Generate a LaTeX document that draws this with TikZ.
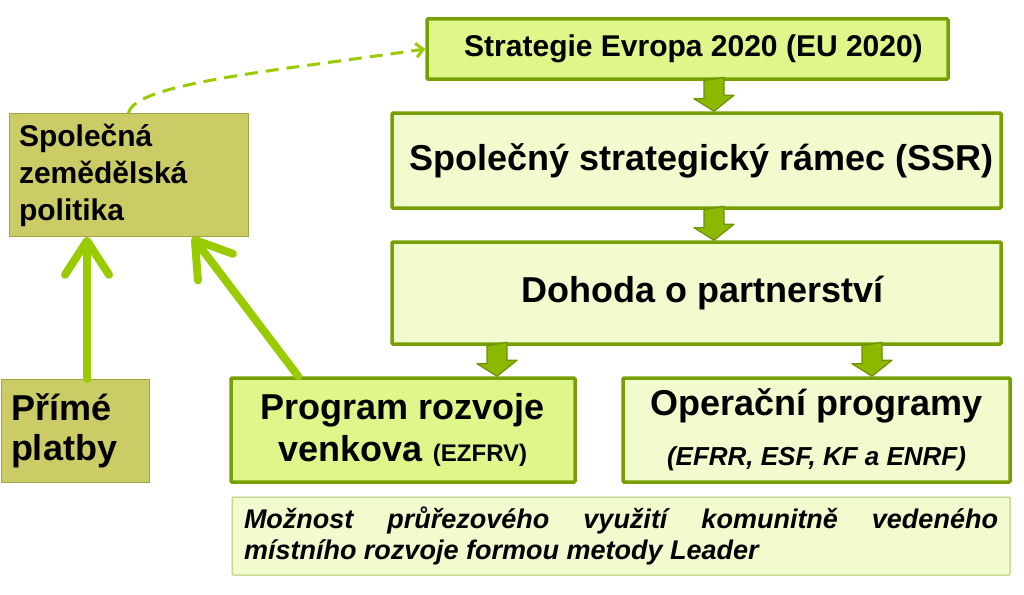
\documentclass[tikz,border=0pt]{standalone}
\usepackage{fontspec}
\setmainfont{Liberation Sans}
\usetikzlibrary{arrows.meta}

\definecolor{boxline}{HTML}{76A000}
\definecolor{boxfill}{HTML}{F1FBCE}
\definecolor{boxfillx}{HTML}{DFF68A}
\definecolor{olivefill}{HTML}{CCCC66}
\definecolor{oliveline}{HTML}{A3A345}
\definecolor{arrowgreen}{HTML}{99CC00}
\definecolor{blockfill}{HTML}{8CB800}
\definecolor{blockline}{HTML}{6C9200}

\begin{document}
\begin{tikzpicture}[x=1pt, y=-1pt,
    box/.style={draw=boxline, line width=3.5pt, fill=boxfill, rounded corners=1pt,
        inner sep=0pt, align=center, font=\bfseries\fontsize{36}{42}\selectfont},
    olivebox/.style={draw=oliveline, line width=1pt, fill=olivefill,
        inner sep=10pt, align=left, font=\bfseries},
    blockarrow/.style={fill=blockfill, draw=blockline, line width=1.2pt, line join=round},
    bigarrow/.style={draw=arrowgreen, line width=8pt, line cap=round,
        -{Straight Barb[length=34pt, width=44pt, round]}},
    dasharrow/.style={draw=arrowgreen, line width=3pt, dash pattern=on 13pt off 8pt,
        -{Straight Barb[length=7pt, width=14pt]}}]
    \useasboundingbox (0,0) rectangle (1024,594);

    % right column
    \node[box, fill=boxfillx, minimum width=521, minimum height=60,
        font=\bfseries\fontsize{30}{34}\selectfont]
        (top) at (687.5, 49) {\hspace*{12pt}Strategie Evropa 2020 (EU 2020)};
    \node[box, minimum width=609, minimum height=95]
        (ssr) at (696.5, 160.5) {\hspace*{10pt}Společný strategický rámec (SSR)};
    \node[box, minimum width=609, minimum height=102]
        (dohoda) at (696.5, 293) {\hspace*{12pt}Dohoda o partnerství};
    \node[box, fill=boxfillx, minimum width=344, minimum height=104]
        (prv) at (403, 430) {Program rozvoje\\
        venkova {\fontsize{24}{28}\selectfont (EZFRV)}};
    \node[box, minimum width=387, minimum height=104]
        (op) at (816.5, 430) {Operační programy\\[8pt]
        {\fontsize{26}{30}\selectfont\itshape (EFRR, ESF, KF a ENRF)}};
    \node[box, line width=1pt, draw=boxline!60, minimum width=778, minimum height=78,
        text width=754, align=justify, font=\bfseries\itshape\fontsize{27}{31}\selectfont]
        (leader) at (621, 536) {Možnost průřezového využití komunitně vedeného\linebreak
        místního rozvoje formou metody Leader};

    % left column
    \node[olivebox, minimum width=239, minimum height=120, text width=219,
        font=\bfseries\fontsize{30}{37}\selectfont]
        (szp) at (128.5, 175) {Společná\\ zemědělská\\ politika};
    \node[olivebox, minimum width=148, minimum height=103, text width=128,
        font=\bfseries\fontsize{36}{40}\selectfont]
        (pp) at (75, 431) {Přímé\\ platby};

    % block arrows
    \foreach \a/\b/\x in {top/ssr/714, ssr/dohoda/714, dohoda/prv/497, dohoda/op/872}
        \filldraw[blockarrow] (\x,0 |- \a.south) ++(-10,0) -- ++(0,18) -- ++(-10,0)
            -- (\x,0 |- \b.north) -- ++(20,-16) -- ++(-10,0) -- ++(0,-18) -- cycle;

    % green arrows
    \draw[bigarrow] (87,0 |- pp.north) -- (87,0 |- szp.south);
    \draw[bigarrow] ([xshift=69]prv.north west) -- ([xshift=-56]szp.south east);
    \draw[dasharrow] (szp.north) .. controls +(6,-30) and +(-150,22) .. (top.west);
\end{tikzpicture}
\end{document}
